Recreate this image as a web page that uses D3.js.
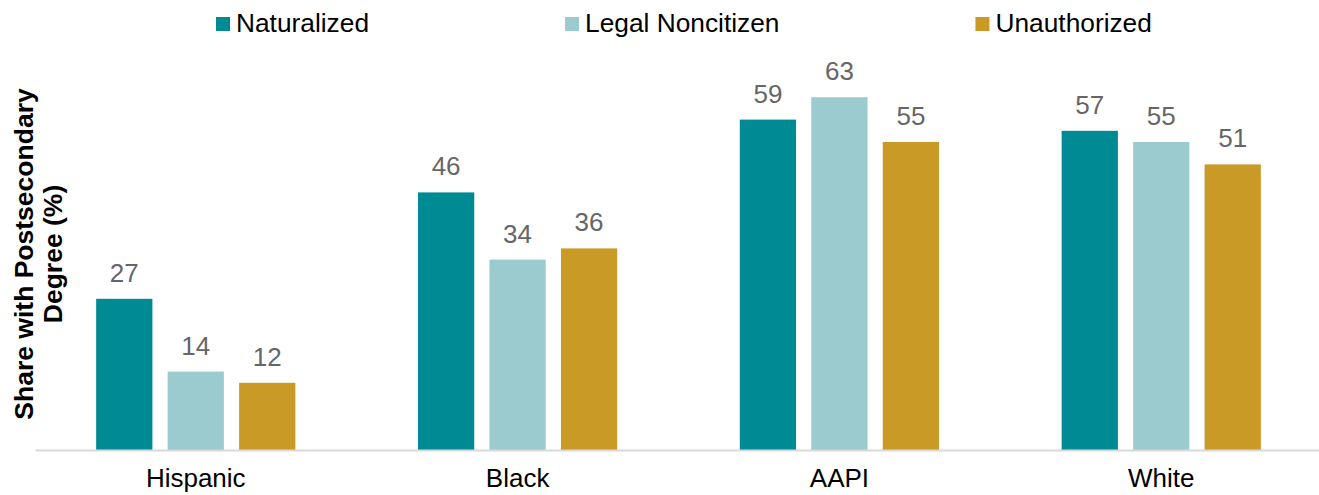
<!DOCTYPE html>
<html>
<head>
<meta charset="utf-8">
<script src="https://cdn.jsdelivr.net/npm/d3@7"></script>
<style>
  body { margin: 0; background: #fff; }
  svg { display: block; font-family: "Liberation Sans", Arial, sans-serif; }
</style>
</head>
<body>
<svg id="chart" width="1319" height="495"></svg>
<script>
const categories = ["Hispanic", "Black", "AAPI", "White"];
const seriesNames = ["Naturalized", "Legal Noncitizen", "Unauthorized"];
const naturalized = [27, 46, 59, 57];
const legalNoncitizen = [14, 34, 63, 55];
const unauthorized = [12, 36, 55, 51];
const seriesValues = [naturalized, legalNoncitizen, unauthorized];
const colors = ["#008B94", "#9CCBCF", "#C99A26"];
const yTitleLines = ["Share with Postsecondary", "Degree (%)"];

const svg = d3.select("#chart");
const baseY = 450;

const x0 = d3.scaleBand().domain(categories).range([35, 1322])
  .paddingInner(0.381).paddingOuter(0.19);
const x1 = d3.scaleBand().domain(seriesNames).range([0, x0.bandwidth()])
  .paddingInner(0.213).paddingOuter(0);
const y = d3.scaleLinear().domain([0, 70]).range([baseY, baseY - 70 * 5.6]);

const data = [];
categories.forEach((c, ci) => {
  seriesNames.forEach((s, si) => {
    data.push({ cat: c, series: s, si: si, value: seriesValues[si][ci] });
  });
});

// bars
svg.append("g").selectAll("rect").data(data).join("rect")
  .attr("x", d => x0(d.cat) + x1(d.series))
  .attr("y", d => y(d.value))
  .attr("width", x1.bandwidth())
  .attr("height", d => y(0) - y(d.value))
  .attr("fill", d => colors[d.si]);

// value labels
svg.append("g").selectAll("text").data(data).join("text")
  .attr("x", d => x0(d.cat) + x1(d.series) + x1.bandwidth() / 2)
  .attr("y", d => y(d.value) - 17)
  .attr("text-anchor", "middle")
  .attr("font-size", 26)
  .attr("fill", "#666666")
  .text(d => d.value);

// x axis
const xAxis = svg.append("g")
  .attr("transform", `translate(0,${baseY})`)
  .call(d3.axisBottom(x0).tickSize(0).tickPadding(0));
xAxis.select(".domain").attr("stroke", "#D9D9D9").attr("stroke-width", 2);
xAxis.selectAll("text")
  .attr("font-size", 26)
  .attr("font-family", "Liberation Sans, Arial, sans-serif")
  .attr("fill", "#000")
  .attr("dy", null)
  .attr("y", 37);

// y title
const yt = svg.append("text")
  .attr("transform", "translate(33,254) rotate(-90)")
  .attr("text-anchor", "middle")
  .attr("font-size", 26.5)
  .attr("font-weight", "bold")
  .attr("fill", "#000");
yTitleLines.forEach((t, i) => {
  yt.append("tspan").attr("x", 0).attr("dy", i === 0 ? 0 : 29).text(t);
});

// legend
const legend = svg.append("g");
let lx = 216;
seriesNames.forEach((s, i) => {
  const g = legend.append("g");
  g.append("rect").attr("x", lx).attr("y", 17).attr("width", 14).attr("height", 14)
    .attr("fill", colors[i]);
  const t = g.append("text").attr("x", lx + 20).attr("y", 31.5)
    .attr("font-size", 26.3).attr("fill", "#000").text(s);
  const w = t.node().getComputedTextLength();
  lx = lx + 20 + w + 196;
});
</script>
</body>
</html>
